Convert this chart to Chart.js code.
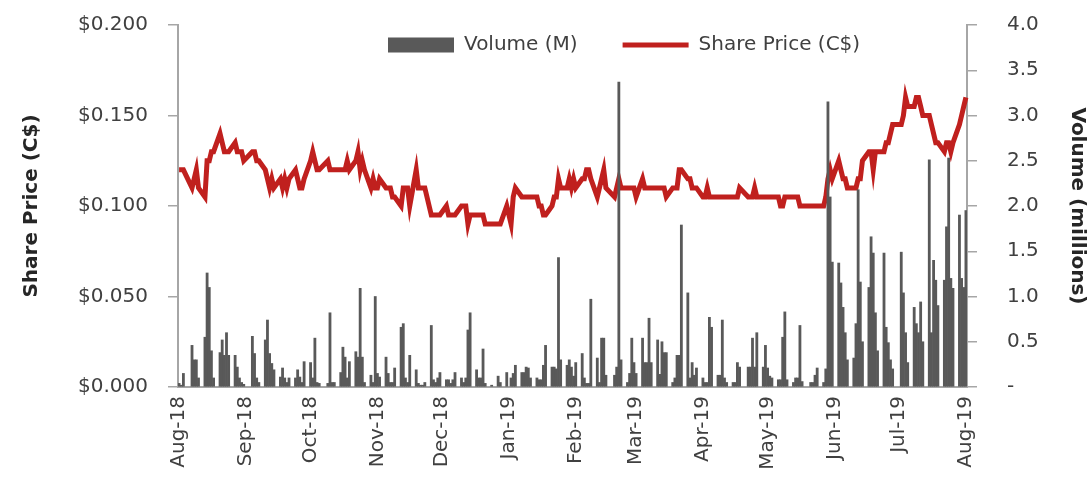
<!DOCTYPE html>
<html>
<head>
<meta charset="utf-8">
<script src="https://cdn.jsdelivr.net/npm/chart.js@4"></script>
<style>
  html, body { margin: 0; padding: 0; background: #fff; }
</style>
</head>
<body>
<canvas id="chart" width="1092" height="492"></canvas>
<script>
const monthLabels = [
  "Aug-18", "Sep-18", "Oct-18", "Nov-18", "Dec-18", "Jan-19", "Feb-19",
  "Mar-19", "Apr-19", "May-19", "Jun-19", "Jul-19", "Aug-19",
];

// market closed on these weekdays
const holidays = [
  "2018-08-06", "2018-09-03", "2018-10-08", "2018-12-25", "2018-12-26",
  "2019-01-01", "2019-02-18", "2019-04-19", "2019-05-20", "2019-07-01",
];

// daily volume (millions), one row per month
const volume = [
  0.04, 0.02, 0.15, 0.46, 0.30, 0.30, 0.10, 0.55, 1.26, 1.10, 0.40, 0.10, 0.38, 0.52, 0.35, 0.60, 0.35, 0.35, 0.22, 0.10, 0.05, 0.03,
  0.56, 0.37, 0.10, 0.05, 0.52, 0.74, 0.37, 0.26, 0.19, 0.11, 0.21, 0.10, 0.05, 0.10, 0.10, 0.19, 0.11, 0.05, 0.28,
  0.27, 0.10, 0.54, 0.05, 0.04, 0.04, 0.82, 0.05, 0.05, 0.16, 0.44, 0.33, 0.10, 0.28, 0.39, 0.33, 1.09, 0.33, 0.05, 0.13, 0.05, 1.00,
  0.15, 0.11, 0.33, 0.15, 0.05, 0.05, 0.21, 0.66, 0.70, 0.10, 0.05, 0.35, 0.19, 0.04, 0.02, 0.02, 0.05, 0.68, 0.08, 0.05, 0.10, 0.16,
  0.08, 0.08, 0.04, 0.08, 0.16, 0.10, 0.05, 0.10, 0.63, 0.82, 0.19, 0.10, 0.10, 0.42, 0.04, 0.02, 0.12, 0.05, 0.16,
  0.10, 0.15, 0.24, 0.16, 0.16, 0.22, 0.21, 0.10, 0.10, 0.08, 0.08, 0.24, 0.46, 0.22, 0.22, 0.20, 1.43, 0.30, 0.24, 0.30, 0.22, 0.12,
  0.27, 0.37, 0.10, 0.04, 0.04, 0.97, 0.32, 0.05, 0.54, 0.54, 0.13, 0.13, 0.22, 3.37, 0.30, 0.05, 0.15, 0.54, 0.27,
  0.15, 0.54, 0.27, 0.27, 0.76, 0.27, 0.52, 0.14, 0.50, 0.38, 0.38, 0.05, 0.10, 0.35, 0.35, 1.79, 1.04, 0.10, 0.27, 0.13, 0.21,
  0.10, 0.05, 0.05, 0.77, 0.66, 0.13, 0.13, 0.74, 0.10, 0.05, 0.05, 0.05, 0.27, 0.22, 0.22, 0.22, 0.54, 0.22, 0.60, 0.22, 0.46,
  0.21, 0.12, 0.10, 0.08, 0.08, 0.55, 0.83, 0.08, 0.05, 0.10, 0.10, 0.68, 0.06, 0.05, 0.05, 0.13, 0.21, 0.05, 0.20, 3.15, 2.10, 1.38,
  1.37, 1.15, 0.88, 0.60, 0.30, 0.32, 0.70, 2.18, 1.16, 0.50, 1.10, 1.66, 1.48, 0.82, 0.40, 1.48, 0.66, 0.49, 0.30, 0.20,
  1.49, 1.04, 0.60, 0.27, 0.88, 0.70, 0.60, 0.94, 0.50, 2.51, 0.60, 1.40, 1.18, 0.90, 1.18, 1.77, 2.53, 1.20, 1.09, 1.90, 1.20, 1.10,
  1.95,
];

// daily close (C$), same trading days
const price = [
  0.12, 0.12, 0.12, 0.11, 0.115, 0.12, 0.11, 0.105, 0.125, 0.125, 0.13, 0.13, 0.14, 0.135, 0.13, 0.13, 0.13, 0.135, 0.13, 0.13, 0.13, 0.125,
  0.13, 0.13, 0.125, 0.125, 0.12, 0.115, 0.11, 0.115, 0.11, 0.115, 0.11, 0.115, 0.11, 0.115, 0.12, 0.115, 0.11, 0.11, 0.115,
  0.125, 0.13, 0.125, 0.12, 0.12, 0.125, 0.12, 0.12, 0.12, 0.12, 0.12, 0.12, 0.125, 0.12, 0.125, 0.13, 0.12, 0.125, 0.12, 0.11, 0.115, 0.11,
  0.11, 0.115, 0.11, 0.11, 0.11, 0.105, 0.105, 0.10, 0.11, 0.11, 0.11, 0.10, 0.12, 0.11, 0.11, 0.11, 0.11, 0.095, 0.095, 0.095, 0.095, 0.095,
  0.10, 0.095, 0.095, 0.095, 0.095, 0.10, 0.10, 0.10, 0.09, 0.095, 0.095, 0.095, 0.095, 0.095, 0.09, 0.09, 0.09, 0.09, 0.10,
  0.09, 0.105, 0.11, 0.105, 0.105, 0.105, 0.105, 0.105, 0.105, 0.10, 0.10, 0.095, 0.095, 0.10, 0.105, 0.105, 0.115, 0.11, 0.11, 0.115, 0.11, 0.115,
  0.11, 0.115, 0.115, 0.12, 0.12, 0.115, 0.105, 0.11, 0.115, 0.12, 0.11, 0.105, 0.11, 0.115, 0.11, 0.11, 0.11, 0.11, 0.11,
  0.105, 0.115, 0.11, 0.11, 0.11, 0.11, 0.11, 0.11, 0.11, 0.11, 0.105, 0.11, 0.11, 0.11, 0.12, 0.12, 0.115, 0.115, 0.11, 0.11, 0.11,
  0.105, 0.105, 0.11, 0.105, 0.105, 0.105, 0.105, 0.105, 0.105, 0.105, 0.105, 0.105, 0.105, 0.11, 0.105, 0.105, 0.105, 0.11, 0.105, 0.105, 0.105,
  0.105, 0.105, 0.105, 0.105, 0.10, 0.10, 0.105, 0.105, 0.105, 0.105, 0.105, 0.10, 0.10, 0.10, 0.10, 0.10, 0.10, 0.10, 0.105, 0.115, 0.12, 0.115,
  0.125, 0.12, 0.115, 0.115, 0.11, 0.11, 0.11, 0.115, 0.115, 0.125, 0.13, 0.13, 0.12, 0.13, 0.13, 0.13, 0.135, 0.135, 0.14, 0.145,
  0.145, 0.15, 0.16, 0.155, 0.155, 0.16, 0.16, 0.155, 0.15, 0.15, 0.145, 0.14, 0.135, 0.135, 0.13, 0.135, 0.135, 0.13, 0.135, 0.145, 0.15, 0.155,
  0.16,
];

// calendar axis: every day from 1 Aug 2018 to 1 Aug 2019, gaps on closed days
const days = [];
for (let t = Date.UTC(2018, 7, 1); t <= Date.UTC(2019, 7, 1); t += 86400000) {
  days.push(new Date(t));
}

const volumeByDay = [];
const priceByDay = [];
let k = 0;
days.forEach((d) => {
  const iso = d.toISOString().slice(0, 10);
  const wd = d.getUTCDay();
  if (wd === 0 || wd === 6 || holidays.includes(iso)) {
    volumeByDay.push(null);
    priceByDay.push(null);
  } else {
    volumeByDay.push(volume[k]);
    priceByDay.push(price[k]);
    k++;
  }
});

const font = "'DejaVu Sans', Verdana, sans-serif";
const axisGrey = "#a6a6a6";
const legendGap = 45;

// legend sits inside the plot area as one row, near its top right
const legendInRow = {
  id: "legendInRow",
  afterInit: (chart) => {
    chart.legend.isHorizontal = () => true;
  },
  afterLayout: (chart) => {
    const area = chart.chartArea;
    chart.legend.left = area.left + 210 - legendGap;
    chart.legend.right = area.right;
    chart.legend.top = area.top + 10 - legendGap;
  },
};

// fixed axis widths; the tick padding should not push the plot top down
const fixWidth = (w) => (scale) => {
  scale.width = w;
  scale.paddingTop = 0;
  scale.paddingBottom = 0;
};

const data = {
  labels: days.map((d) => d.toISOString().slice(0, 10)),
  datasets: [
    {
      type: "bar",
      label: "Volume (M)",
      data: volumeByDay,
      yAxisID: "y1",
      backgroundColor: "#595959",
      barPercentage: 1,
      categoryPercentage: 1,
      pointStyle: "rect",
      order: 0,
    },
    {
      type: "line",
      label: "Share Price (C$)",
      data: priceByDay,
      yAxisID: "y",
      borderColor: "#c0201e",
      backgroundColor: "#c0201e",
      borderWidth: 5,
      pointRadius: 0,
      tension: 0,
      spanGaps: true,
      pointStyle: "line",
      order: 1,
    },
  ],
};

const config = {
  type: "bar",
  data: data,
  plugins: [legendInRow],
  options: {
    responsive: false,
    animation: false,
    layout: { padding: { top: 25, left: 0, right: 0, bottom: 0 } },
    plugins: {
      tooltip: { enabled: false },
      legend: {
        position: "chartArea",
        align: "start",
        labels: {
          usePointStyle: true,
          pointStyleWidth: 66,
          boxHeight: 15,
          padding: legendGap,
          color: "#404040",
          font: { family: font, size: 20 },
        },
      },
    },
    scales: {
      x: {
        grid: { display: false, drawTicks: false },
        border: { display: true, color: axisGrey, width: 2 },
        ticks: {
          autoSkip: false,
          minRotation: 90,
          maxRotation: 90,
          padding: 9,
          color: "#404040",
          font: { family: font, size: 20 },
          callback: (value, index) => {
            const d = days[index];
            if (d.getUTCDate() !== 1) return "";
            return monthLabels[(d.getUTCFullYear() - 2018) * 12 + d.getUTCMonth() - 7];
          },
        },
        afterFit: (scale) => { scale.height = 105; },
      },
      y: {
        position: "left",
        min: 0,
        max: 0.2,
        grid: { drawOnChartArea: false, drawTicks: true, tickLength: 10, color: axisGrey, lineWidth: 1.5 },
        border: { display: true, color: axisGrey, width: 2 },
        ticks: {
          stepSize: 0.05,
          padding: 20,
          color: "#404040",
          font: { family: font, size: 20 },
          callback: (value) => "$" + value.toFixed(3),
        },
        title: {
          display: true,
          text: "Share Price (C$)",
          color: "#262626",
          font: { family: font, size: 20, weight: "bold" },
          padding: { top: 20, bottom: 0 },
        },
        afterFit: fixWidth(178),
      },
      y1: {
        position: "right",
        min: 0,
        max: 4,
        grid: { drawOnChartArea: false, drawTicks: true, tickLength: 10, color: axisGrey, lineWidth: 1.5 },
        border: { display: true, color: axisGrey, width: 2 },
        ticks: {
          stepSize: 0.5,
          padding: 30,
          color: "#404040",
          font: { family: font, size: 20 },
          callback: (value) => (value === 0 ? "-" : value.toFixed(1)),
        },
        title: {
          display: true,
          text: "Volume (millions)",
          color: "#262626",
          font: { family: font, size: 20, weight: "bold" },
          padding: { top: 3, bottom: 0 },
        },
        afterFit: fixWidth(125),
      },
    },
  },
};

const myChart = new Chart(document.querySelector("#chart").getContext("2d"), config);
</script>
</body>
</html>
